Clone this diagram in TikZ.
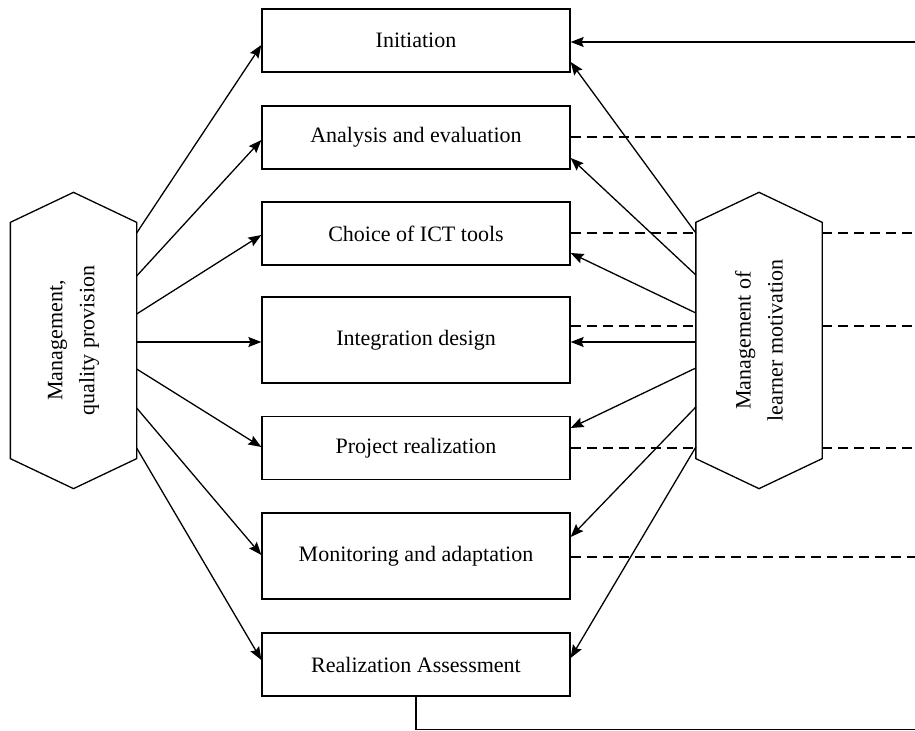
\documentclass[tikz,border=0pt]{standalone}
\usepackage{fontspec}
\setmainfont{Liberation Serif}
\usetikzlibrary{arrows.meta}

\begin{document}
\begin{tikzpicture}[x=0.5pt, y=-0.5pt, >={Stealth[length=6.5pt,width=5pt,inset=1pt]},
    line width=0.65pt,
    every node/.style={font=\fontsize{11}{16}\selectfont},
    stage/.style={draw, minimum width=154pt, minimum height=31.5pt, inner sep=0pt},
    tallstage/.style={stage, minimum height=43pt},
    hexbody/.style={minimum width=62.5pt, minimum height=117.5pt, inner sep=0pt},
    dsh/.style={dash pattern=on 5pt off 3pt}]
  \useasboundingbox (0,0) rectangle (915,731);
  % Stufen der Mitte
  \node[stage] (init) at (416,40.5) {Initiation};
  \node[stage] (anal) at (416,137.5) {Analysis and evaluation};
  \node[stage] (ict) at (416,233.5) {Choice of ICT tools};
  \node[tallstage] (integ) at (416,340) {Integration design};
  \node[stage] (proj) at (416,448) {Project realization};
  \node[tallstage] (monit) at (416,556) {Monitoring and adaptation};
  \node[stage] (assess) at (416,664.5) {Realization Assessment};
  % Sechsecke links und rechts
  \node[hexbody] (qual) at (73.5,340.5) {};
  \draw (qual.south west) -- (qual.north west) -- ([yshift=15pt]qual.north)
    -- (qual.north east) -- (qual.south east) -- ([yshift=-15pt]qual.south) -- cycle;
  \node[rotate=90, align=center] at (qual.center) {Management,\\quality provision};
  \node[hexbody] (motiv) at (759,340.5) {};
  \draw (motiv.south west) -- (motiv.north west) -- ([yshift=15pt]motiv.north)
    -- (motiv.north east) -- (motiv.south east) -- ([yshift=-15pt]motiv.south) -- cycle;
  \node[rotate=90, align=center] at (motiv.center) {Management of\\learner motivation};
  % rechter Rand
  \coordinate (rim) at (915,0);
  % Pfeile von links
  \draw[->] (qual.east |- 0,233) -- (init.west |- 0,45);
  \draw[->] (qual.east |- 0,276) -- (anal.west |- 0,140);
  \draw[->] (qual.east |- 0,314) -- (ict.west |- 0,235);
  \draw[->] (qual.east |- 0,342) -- (integ.west |- 0,342);
  \draw[->] (qual.east |- 0,369) -- (proj.west |- 0,447);
  \draw[->] (qual.east |- 0,408) -- (monit.west |- 0,555);
  \draw[->] (qual.east |- 0,448) -- (assess.west |- 0,660);
  % Pfeile von rechts
  \draw[->] (motiv.west |- 0,233) -- (init.east |- 0,62);
  \draw[->] (motiv.west |- 0,275) -- (anal.east |- 0,158);
  \draw[->] (motiv.west |- 0,313) -- (ict.east |- 0,253);
  \draw[->] (motiv.west |- 0,342) -- (integ.east |- 0,342);
  \draw[->] (motiv.west |- 0,368) -- (proj.east |- 0,428);
  \draw[->] (motiv.west |- 0,407) -- (monit.east |- 0,537);
  \draw[->] (motiv.west |- 0,447) -- (assess.east |- 0,658);
  % Rueckkopplung
  \draw[->] (rim |- 0,42) -- (init.east |- 0,42);
  \draw (assess.south) -- (assess.south |- 0,729.5) -- (rim |- 0,729.5);
  % gestrichelte Linien
  \draw[dsh] (anal.east |- 0,137) -- (rim |- 0,137);
  \draw[dsh] (ict.east |- 0,233) -- (motiv.west |- 0,233);
  \draw[dsh] (motiv.east |- 0,233) -- (rim |- 0,233);
  \draw[dsh] (integ.east |- 0,326) -- (motiv.west |- 0,326);
  \draw[dsh] (motiv.east |- 0,326) -- (rim |- 0,326);
  \draw[dsh] (proj.east |- 0,448) -- (motiv.west |- 0,448);
  \draw[dsh] (motiv.east |- 0,448) -- (rim |- 0,448);
  \draw[dsh] (monit.east |- 0,557) -- (rim |- 0,557);
\end{tikzpicture}
\end{document}
